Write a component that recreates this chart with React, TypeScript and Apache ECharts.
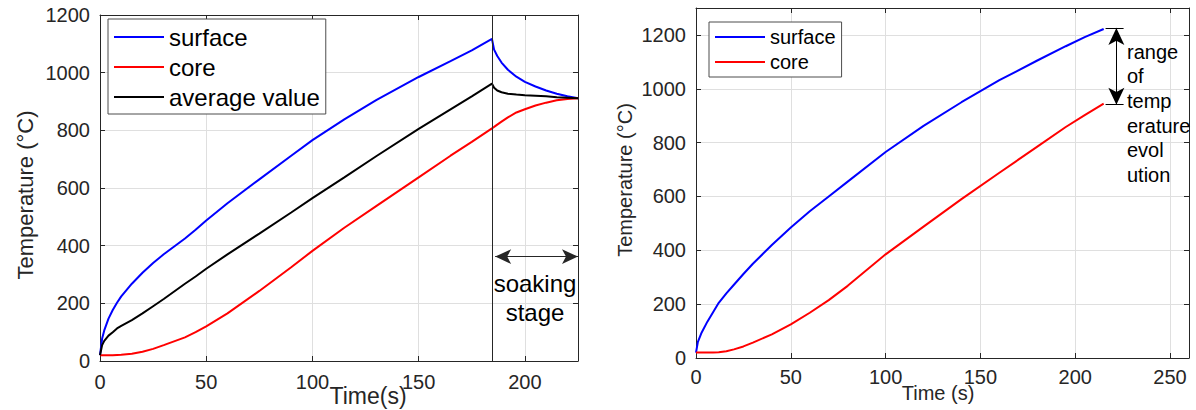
import React, { useEffect, useRef } from "react";
import * as echarts from "echarts";

// ---------- Left chart data (time in s, temperature in °C) ----------
const leftTime = [0, 1, 2, 4, 6, 8, 10, 15, 20, 25, 30, 40, 45, 50, 60, 75, 90, 100, 115, 130, 150, 165, 175, 184.5, 185.5, 187, 189, 192, 196, 200, 205, 210, 215, 220, 225];
const leftSurface = [20, 78, 106, 147, 177, 202, 224, 268, 306, 340, 370, 425, 455, 487, 547, 630, 712, 766, 838, 905, 985, 1040, 1077, 1117, 1080, 1058, 1035, 1010, 986, 968, 952, 938, 927, 918, 911];
const leftCore = [20, 20, 20, 20, 20, 21, 22, 25, 32, 42, 55, 82, 100, 120, 165, 243, 325, 382, 462, 537, 637, 712, 760, 807, 812, 820, 830, 845, 862, 873, 886, 896, 904, 909, 911];
const leftAverage = [20, 55, 70, 88, 100, 113, 122, 142, 165, 190, 215, 268, 293, 320, 370, 442, 515, 565, 637, 710, 805, 873, 918, 962, 948, 938, 932, 927, 924, 922, 920, 918, 915, 913, 911];
const soakStart = 184.5;
const soakArrow = { from: 186, to: 225, level: 362 };

// ---------- Right chart data ----------
const rightTime = [0, 1, 3, 6, 9, 12, 16, 20, 25, 30, 40, 50, 60, 70, 80, 100, 120, 140, 160, 180, 195, 205, 215];
const rightSurface = [20, 60, 95, 135, 170, 205, 240, 272, 312, 350, 420, 485, 545, 600, 655, 765, 862, 950, 1032, 1105, 1158, 1192, 1222];
const rightCore = [20, 20, 20, 20, 20, 21, 25, 32, 43, 57, 88, 125, 168, 215, 268, 385, 488, 590, 688, 785, 858, 902, 945];
const rangeBracket = { xFrom: 216, xTo: 225.5, xArrow: 221.7, top: 1226, bottom: 941 };

// ---------- Tick settings ----------
const leftX = { min: 0, max: 225, interval: 50, showMax: false };
const leftY = { min: 0, max: 1200, interval: 200, showMax: true };
const rightX = { min: 0, max: 260, interval: 50, showMax: false };
const rightY = { min: 0, max: 1300, interval: 200, showMax: false };

const FONT = "Liberation Sans, Arial, Helvetica, sans-serif";
const AX = "#262626";
const GRID = "#dfdfdf";

const zip = (xs: number[], ys: number[]) => xs.map((x, i) => [x, ys[i]]);

function mainAxis(gridIndex: number, pos: string, range: any, labelMargin: number) {
  return {
    gridIndex,
    type: "value",
    position: pos,
    min: range.min,
    max: range.max,
    interval: range.interval,
    axisLine: { show: true, onZero: false, lineStyle: { color: AX, width: 1 } },
    axisTick: { show: true, inside: true, length: 5, lineStyle: { color: AX, width: 1 } },
    axisLabel: {
      show: true,
      color: AX,
      fontSize: 20,
      fontFamily: FONT,
      margin: labelMargin,
      showMaxLabel: range.showMax,
      formatter: (v: number) => String(v),
    },
    splitLine: { show: true, lineStyle: { color: GRID, width: 1 } },
  };
}

function boxAxis(gridIndex: number, pos: string, range: any) {
  return {
    gridIndex,
    type: "value",
    position: pos,
    min: range.min,
    max: range.max,
    interval: range.interval,
    axisLine: { show: true, onZero: false, lineStyle: { color: AX, width: 1 } },
    axisTick: { show: true, inside: true, length: 5, lineStyle: { color: AX, width: 1 } },
    axisLabel: { show: false },
    splitLine: { show: false },
  };
}

function lineSeries(name: string, color: string, data: number[][], xi: number, yi: number, extra: any = {}) {
  return {
    name,
    type: "line",
    xAxisIndex: xi,
    yAxisIndex: yi,
    data,
    symbol: "none",
    showSymbol: false,
    smooth: false,
    clip: false,
    lineStyle: { color, width: 2 },
    itemStyle: { color },
    silent: true,
    ...extra,
  };
}

export default function App() {
  const ref = useRef<HTMLDivElement>(null);

  useEffect(() => {
    if (!ref.current) return;
    const chart = echarts.init(ref.current, undefined, { renderer: "svg" });

    const legendBase = {
      orient: "vertical",
      icon: "rect",
      itemWidth: 50,
      itemHeight: 2,
      borderColor: "#4d4d4d",
      borderWidth: 1,
      borderRadius: 0,
      backgroundColor: "#ffffff",
      selectedMode: false,
    };

    const option: any = {
      animation: false,
      backgroundColor: "#ffffff",
      textStyle: { fontFamily: FONT },
      grid: [
        { left: 100, top: 15, width: 478, height: 346, containLabel: false },
        { left: 696, top: 8, width: 493, height: 350, containLabel: false },
      ],
      xAxis: [
        mainAxis(0, "bottom", leftX, 11),
        boxAxis(0, "top", leftX),
        mainAxis(1, "bottom", rightX, 9),
        boxAxis(1, "top", rightX),
      ],
      yAxis: [
        mainAxis(0, "left", leftY, 10),
        boxAxis(0, "right", leftY),
        mainAxis(1, "left", rightY, 10),
        boxAxis(1, "right", rightY),
      ],
      legend: [
        {
          ...legendBase,
          data: ["surface", "core", "average value"],
          left: 108,
          top: 19,
          padding: [6, 6, 5, 6],
          itemGap: 6,
          textStyle: { fontSize: 24, lineHeight: 24, color: "#000", fontFamily: FONT },
        },
        {
          ...legendBase,
          data: ["surface", "core"],
          left: 709,
          top: 22,
          padding: [5, 6, 5, 6],
          itemGap: 5,
          textStyle: { fontSize: 20, lineHeight: 20, color: "#000", fontFamily: FONT },
        },
      ],
      series: [
        lineSeries("surface", "#0000ff", zip(leftTime, leftSurface), 0, 0),
        lineSeries("core", "#ff0000", zip(leftTime, leftCore), 0, 0),
        lineSeries("average value", "#000000", zip(leftTime, leftAverage), 0, 0, {
          markLine: {
            silent: true,
            symbol: ["none", "none"],
            label: { show: false },
            lineStyle: { type: "solid", color: AX, width: 1 },
            data: [
              { xAxis: soakStart },
              [
                { coord: [soakArrow.from, soakArrow.level], symbol: "arrow", symbolSize: [11, 16] },
                { coord: [soakArrow.to, soakArrow.level], symbol: "arrow", symbolSize: [11, 16] },
              ],
            ],
          },
        }),
        lineSeries("surface", "#0000ff", zip(rightTime, rightSurface), 2, 2),
        lineSeries("core", "#ff0000", zip(rightTime, rightCore), 2, 2, {
          markLine: {
            silent: true,
            symbol: ["none", "none"],
            label: { show: false },
            lineStyle: { type: "solid", color: "#000", width: 1 },
            data: [
              [
                { coord: [rangeBracket.xFrom, rangeBracket.top] },
                { coord: [rangeBracket.xTo, rangeBracket.top] },
              ],
              [
                { coord: [rangeBracket.xFrom, rangeBracket.bottom] },
                { coord: [rangeBracket.xTo, rangeBracket.bottom] },
              ],
              [
                { coord: [rangeBracket.xArrow, rangeBracket.top], symbol: "arrow", symbolSize: [12, 17] },
                { coord: [rangeBracket.xArrow, rangeBracket.bottom], symbol: "arrow", symbolSize: [12, 17] },
              ],
            ],
          },
        }),
      ],
      graphic: [
        {
          type: "text",
          x: 25,
          y: 195,
          rotation: Math.PI / 2,
          z: 100,
          style: { text: "Temperature (°C)", fontSize: 22, fontFamily: FONT, fill: AX, align: "center", verticalAlign: "middle" },
        },
        {
          type: "text",
          x: 368,
          y: 396,
          z: 100,
          style: { text: "Time(s)", fontSize: 23, fontFamily: FONT, fill: AX, align: "center", verticalAlign: "middle" },
        },
        {
          type: "text",
          x: 535,
          y: 297.5,
          z: 100,
          style: { text: "soaking\nstage", fontSize: 24, lineHeight: 29, fontFamily: FONT, fill: "#000", align: "center", verticalAlign: "middle" },
        },
        {
          type: "text",
          x: 625,
          y: 180,
          rotation: Math.PI / 2,
          z: 100,
          style: { text: "Temperature (°C)", fontSize: 20, fontFamily: FONT, fill: AX, align: "center", verticalAlign: "middle" },
        },
        {
          type: "text",
          x: 938,
          y: 393,
          z: 100,
          style: { text: "Time (s)", fontSize: 20, fontFamily: FONT, fill: AX, align: "center", verticalAlign: "middle" },
        },
        {
          type: "text",
          x: 1127,
          y: 113.4,
          z: 100,
          style: {
            text: "range\nof\ntemp\nerature\nevol\nution",
            fontSize: 20,
            lineHeight: 24.7,
            fontFamily: FONT,
            fill: "#000",
            align: "left",
            verticalAlign: "middle",
          },
        },
      ],
    };

    chart.setOption(option);
    return () => chart.dispose();
  }, []);

  return (
    <div
      ref={ref}
      style={{ position: "absolute", left: 0, top: 0, width: 1196, height: 410, background: "#fff" }}
    />
  );
}
